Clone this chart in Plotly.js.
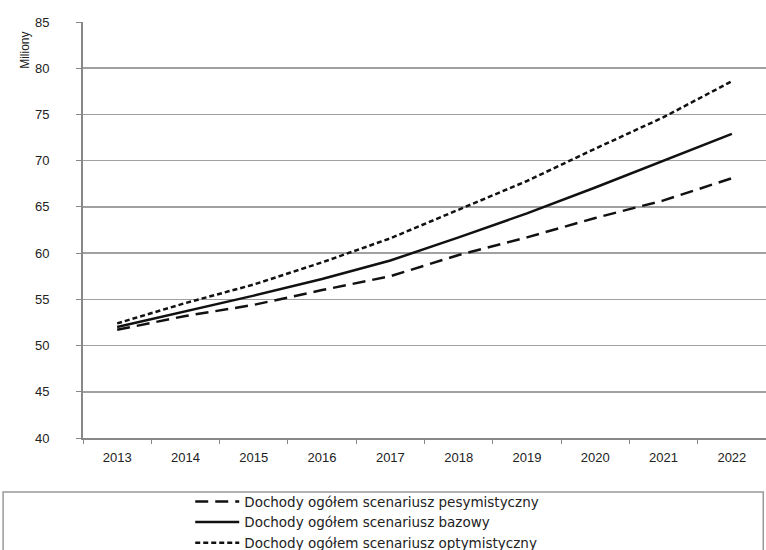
<!DOCTYPE html>
<html>
<head>
<meta charset="utf-8">
<script src="https://cdn.plot.ly/plotly-3.0.1.min.js"></script>
<style>
  html, body { margin: 0; padding: 0; background: #fff; }
  #chart { width: 766px; height: 550px; }
</style>
</head>
<body>
<div id="chart"></div>
<script>
// years on the category axis
const years = ['2013', '2014', '2015', '2016', '2017', '2018', '2019', '2020', '2021', '2022'];

// Dochody ogolem, mln
const pesymistyczny = [51.7, 53.2, 54.4, 56.0, 57.5, 59.8, 61.7, 63.8, 65.7, 68.1];
const bazowy        = [52.0, 53.7, 55.4, 57.2, 59.2, 61.7, 64.3, 67.1, 70.0, 72.9];
const optymistyczny = [52.4, 54.6, 56.6, 59.0, 61.6, 64.7, 67.8, 71.3, 74.7, 78.6];

const names = [
  'Dochody ogółem scenariusz pesymistyczny',
  'Dochody ogółem scenariusz bazowy',
  'Dochody ogółem scenariusz optymistyczny'
];

const font = { family: 'Liberation Sans, Arial, sans-serif', size: 13, color: '#222' };

const data = [
  { x: years, y: pesymistyczny, type: 'scatter', mode: 'lines', name: names[0],
    line: { color: '#111', width: 2.5, dash: '13px,7px' } },
  { x: years, y: bazowy, type: 'scatter', mode: 'lines', name: names[1],
    line: { color: '#111', width: 2.5 } },
  { x: years, y: optymistyczny, type: 'scatter', mode: 'lines', name: names[2],
    line: { color: '#111', width: 2.5, dash: '5px,3px' } }
];

const layout = {
  width: 766,
  height: 550,
  margin: { l: 83, r: 0, t: 22, b: 112, autoexpand: false },
  paper_bgcolor: '#fff',
  plot_bgcolor: '#fff',
  font: font,
  showlegend: true,
  xaxis: {
    type: 'category',
    range: [-0.5, 9.5],
    showgrid: false,
    showline: true, linecolor: '#888', linewidth: 2,
    ticks: 'outside', tickson: 'boundaries', ticklen: 4, tickcolor: '#888',
    ticklabelstandoff: 6,
    tickfont: font,
    zeroline: false
  },
  yaxis: {
    range: [40, 85],
    dtick: 5,
    showgrid: true, gridcolor: '#a0a0a0', gridwidth: 1.5,
    showline: true, linecolor: '#888', linewidth: 2,
    ticks: 'outside', ticklen: 5, tickcolor: '#888',
    ticklabelstandoff: 24,
    tickfont: font,
    zeroline: false
  },
  legend: {
    orientation: 'v',
    x: 0.157, xanchor: 'left',
    y: -0.116, yanchor: 'top',
    bgcolor: 'rgba(0,0,0,0)',
    borderwidth: 0,
    font: { family: 'DejaVu Sans, sans-serif', size: 13.5, color: '#222' },
    itemwidth: 44,
    tracegroupgap: 0
  },
  shapes: [
    { type: 'rect', xref: 'paper', yref: 'paper',
      x0: -0.117, x1: 0.996, y0: -0.13, y1: -0.30,
      line: { color: '#999', width: 1.5 }, fillcolor: 'rgba(0,0,0,0)', layer: 'below' }
  ],
  annotations: [
    { text: 'Miliony', xref: 'paper', yref: 'paper', x: -0.085, y: 0.933,
      xanchor: 'center', yanchor: 'middle',
      showarrow: false, textangle: -90,
      font: { family: 'Liberation Sans, Arial, sans-serif', size: 12, color: '#222' } }
  ]
};

Plotly.newPlot('chart', data, layout, { displayModeBar: false, staticPlot: true });
</script>
</body>
</html>
